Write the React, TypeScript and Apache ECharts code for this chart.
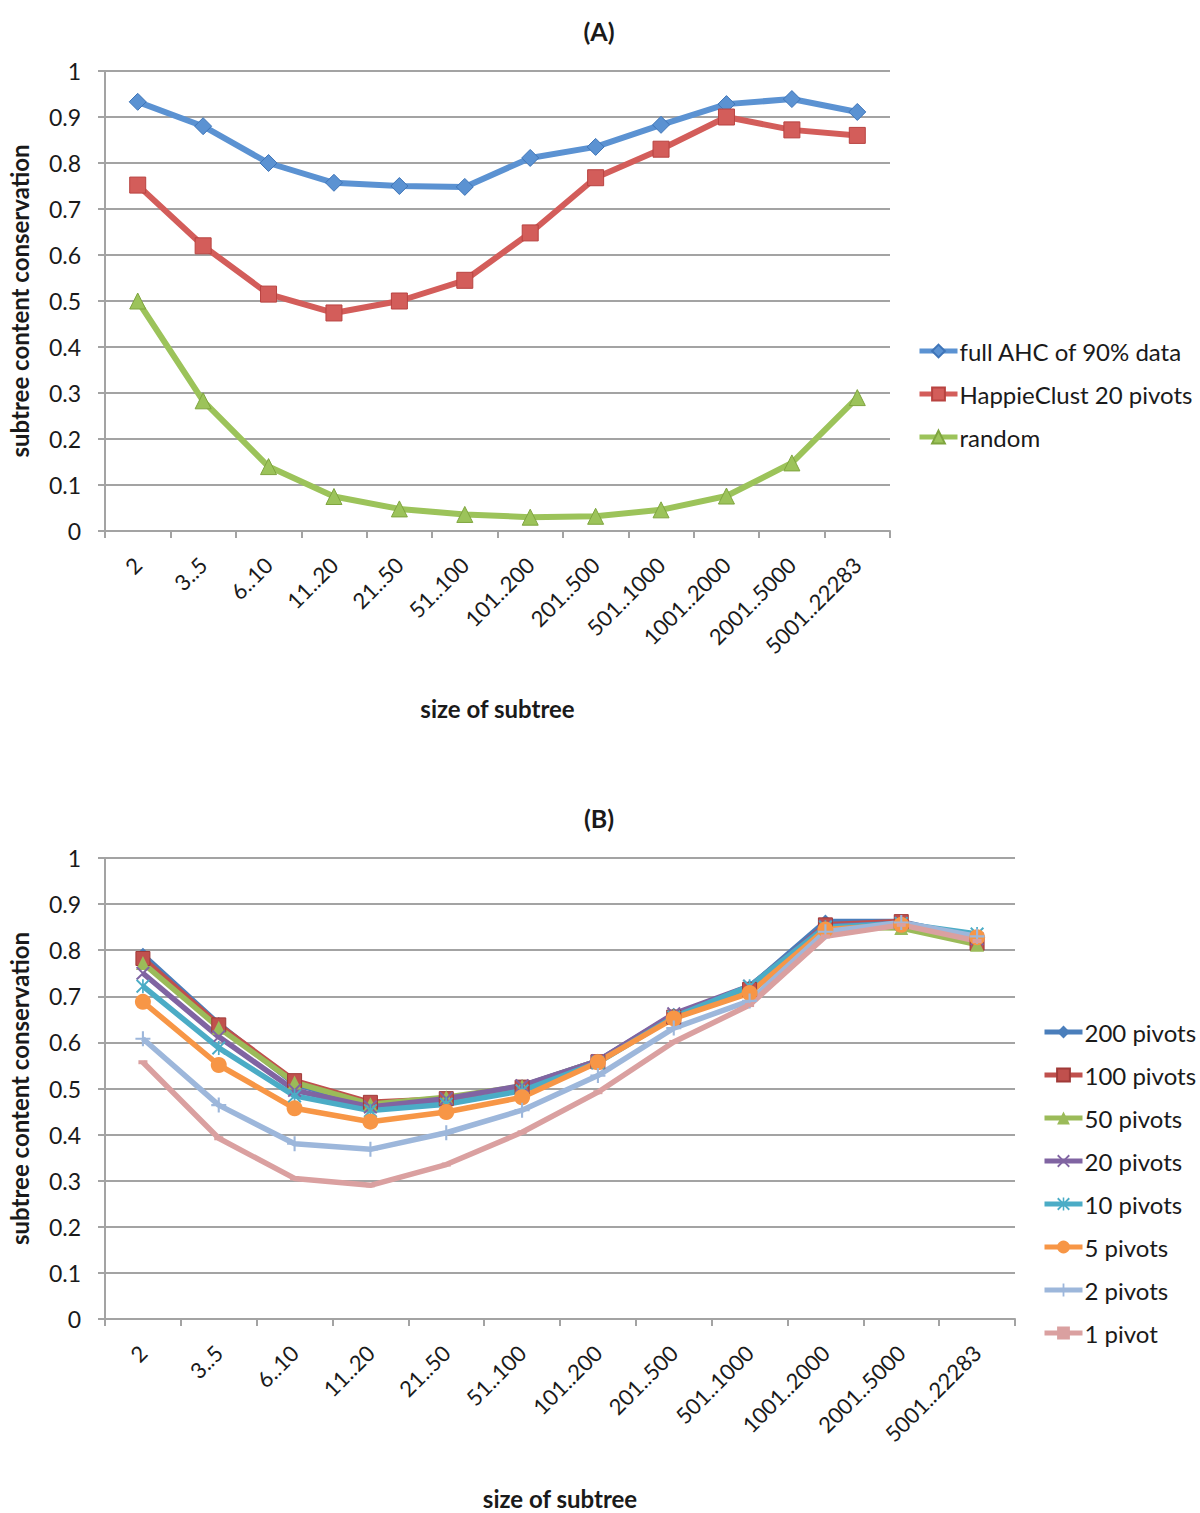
import React, { useEffect, useRef } from "react";
import * as echarts from "echarts";

const categories = ["2", "3..5", "6..10", "11..20", "21..50", "51..100", "101..200", "201..500", "501..1000", "1001..2000", "2001..5000", "5001..22283"];
const yTicks = [0, 0.1, 0.2, 0.3, 0.4, 0.5, 0.6, 0.7, 0.8, 0.9, 1];

const aFullAHC = [0.933, 0.880, 0.800, 0.757, 0.750, 0.748, 0.811, 0.835, 0.883, 0.928, 0.939, 0.911];
const aHappie20 = [0.752, 0.620, 0.515, 0.474, 0.500, 0.545, 0.648, 0.768, 0.830, 0.900, 0.872, 0.860];
const aRandom = [0.500, 0.283, 0.140, 0.075, 0.048, 0.036, 0.030, 0.032, 0.046, 0.076, 0.148, 0.290];

const b200 = [0.790, 0.640, 0.510, 0.462, 0.475, 0.505, 0.560, 0.660, 0.720, 0.862, 0.862, 0.825];
const b100 = [0.782, 0.638, 0.517, 0.470, 0.478, 0.503, 0.558, 0.655, 0.715, 0.855, 0.862, 0.815];
const b50 = [0.772, 0.632, 0.513, 0.466, 0.481, 0.505, 0.560, 0.658, 0.718, 0.850, 0.848, 0.812];
const b20 = [0.750, 0.612, 0.496, 0.460, 0.478, 0.506, 0.560, 0.662, 0.722, 0.852, 0.858, 0.825];
const b10 = [0.722, 0.588, 0.484, 0.452, 0.466, 0.495, 0.556, 0.655, 0.722, 0.850, 0.858, 0.835];
const b5 = [0.688, 0.551, 0.457, 0.428, 0.449, 0.481, 0.557, 0.652, 0.707, 0.845, 0.855, 0.828];
const b2 = [0.608, 0.464, 0.380, 0.368, 0.404, 0.453, 0.528, 0.631, 0.690, 0.840, 0.860, 0.830];
const b1 = [0.557, 0.392, 0.305, 0.290, 0.335, 0.405, 0.492, 0.601, 0.681, 0.830, 0.855, 0.820];

const FONT = "Lato, 'Open Sans', sans-serif";
const GRID_COLOR = "#A3A3A3";
const TEXT_COLOR = "#1a1a1a";

const X_SYM = "path://M1,0L5,4L9,0L10,1L6,5L10,9L9,10L5,6L1,10L0,9L4,5L0,1Z";
const PLUS_SYM = "path://M4.3,0H5.7V4.3H10V5.7H5.7V10H4.3V5.7H0V4.3H4.3Z";
const STAR_SYM = "path://M1,0L5,4L9,0L10,1L6,5L10,9L9,10L5,6L1,10L0,9L4,5L0,1Z M4.4,0H5.6V10H4.4Z";

export default function App() {
  const ref = useRef<HTMLDivElement>(null);
  useEffect(() => {
    if (!ref.current) return;
    const chart = echarts.init(ref.current, null, { renderer: "svg" });

    const xAxisBase = (gridIndex: number, nameGap: number) => ({
      type: "category" as const,
      gridIndex,
      data: categories,
      boundaryGap: true,
      axisLine: { lineStyle: { color: GRID_COLOR, width: 2 } },
      axisTick: { show: true, length: 7, lineStyle: { color: GRID_COLOR, width: 2 } },
      axisLabel: { rotate: 45, fontSize: 22, color: TEXT_COLOR, fontFamily: FONT, margin: 30, interval: 0 },
      name: "size of subtree",
      nameLocation: "middle" as const,
      nameGap,
      nameTextStyle: { fontSize: 24, fontWeight: "bold" as const, color: TEXT_COLOR, fontFamily: FONT },
    });
    const yAxisBase = (gridIndex: number) => ({
      type: "value" as const,
      gridIndex,
      min: 0,
      max: 1,
      interval: 0.1,
      axisLine: { show: true, lineStyle: { color: GRID_COLOR, width: 2 } },
      axisTick: { show: true, length: 7, lineStyle: { color: GRID_COLOR, width: 2 } },
      splitLine: { show: true, lineStyle: { color: GRID_COLOR, width: 2 } },
      axisLabel: {
        fontSize: 23, color: TEXT_COLOR, fontFamily: FONT, margin: 24,
        formatter: (v: number) => {
          const f = yTicks.find((t) => Math.abs(t - v) < 1e-6);
          return String(f !== undefined ? Number(f.toFixed(1)) : v);
        },
      },
      name: "subtree content conservation",
      nameLocation: "middle" as const,
      nameGap: 74,
      nameTextStyle: { fontSize: 24, fontWeight: "bold" as const, color: TEXT_COLOR, fontFamily: FONT },
    });

    const lineSeries = (name: string, data: number[], color: string, symbol: string, symbolSize: number | number[], idx: number, width: number, borderColor?: string) => ({
      type: "line" as const,
      name,
      data,
      xAxisIndex: idx,
      yAxisIndex: idx,
      symbol,
      symbolSize,
      lineStyle: { color, width },
      itemStyle: { color, borderColor: borderColor || color, borderWidth: borderColor ? 1 : 0 },
    });

    const legendCommon = {
      orient: "vertical" as const,
      itemWidth: 38,
      itemHeight: 16,
      itemGap: 19,
      lineStyle: { width: 5 },
      textStyle: { fontSize: 24, color: TEXT_COLOR, fontFamily: FONT, lineHeight: 24, padding: [0, 0, 0, -3] },
    };

    chart.setOption({
      animation: false,
      backgroundColor: "#ffffff",
      title: [
        { text: "(A)", left: 594, top: 13, textAlign: "center", textStyle: { fontSize: 25, fontWeight: "bold", color: TEXT_COLOR, fontFamily: FONT } },
        { text: "(B)", left: 594, top: 800, textAlign: "center", textStyle: { fontSize: 25, fontWeight: "bold", color: TEXT_COLOR, fontFamily: FONT } },
      ],
      grid: [
        { left: 105, top: 71, width: 785, height: 460, outerBoundsMode: "none", containLabel: false },
        { left: 105, top: 858, width: 910, height: 461, outerBoundsMode: "none", containLabel: false },
      ],
      xAxis: [xAxisBase(0, 165), xAxisBase(1, 167)],
      yAxis: [yAxisBase(0), yAxisBase(1)],
      legend: [
        {
          ...legendCommon,
          left: 912,
          top: 334,
          data: ["full AHC of 90% data", "HappieClust 20 pivots", "random"],
        },
        {
          ...legendCommon,
          left: 1037,
          top: 1015,
          data: ["200 pivots", "100 pivots", "50 pivots", "20 pivots", "10 pivots", "5 pivots", "2 pivots", "1 pivot"],
        },
      ],
      series: [
        lineSeries("full AHC of 90% data", aFullAHC, "#5B92D2", "diamond", 17, 0, 6, "#3F75B8"),
        lineSeries("HappieClust 20 pivots", aHappie20, "#D35D5A", "rect", 16, 0, 6, "#B84340"),
        lineSeries("random", aRandom, "#9CC35A", "triangle", 16, 0, 6, "#7FA53F"),
        lineSeries("200 pivots", b200, "#4A7EBB", "diamond", 14, 1, 5.5),
        lineSeries("100 pivots", b100, "#C0504D", "rect", 14, 1, 5.5, "#A03A38"),
        lineSeries("50 pivots", b50, "#9BBB59", "triangle", 14, 1, 5.5),
        lineSeries("20 pivots", b20, "#8064A2", X_SYM, 14, 1, 5.5),
        lineSeries("10 pivots", b10, "#4BACC6", STAR_SYM, 14, 1, 5.5),
        lineSeries("5 pivots", b5, "#F79646", "circle", 16, 1, 5.5),
        lineSeries("2 pivots", b2, "#9DB7DB", PLUS_SYM, 15, 1, 5.5),
        lineSeries("1 pivot", b1, "#DAA0A0", "rect", [9, 4], 1, 5.5),
      ],
    });
    return () => chart.dispose();
  }, []);
  return <div ref={ref} style={{ position: "absolute", left: 0, top: 0, width: 1200, height: 1513, background: "#fff" }} />;
}
